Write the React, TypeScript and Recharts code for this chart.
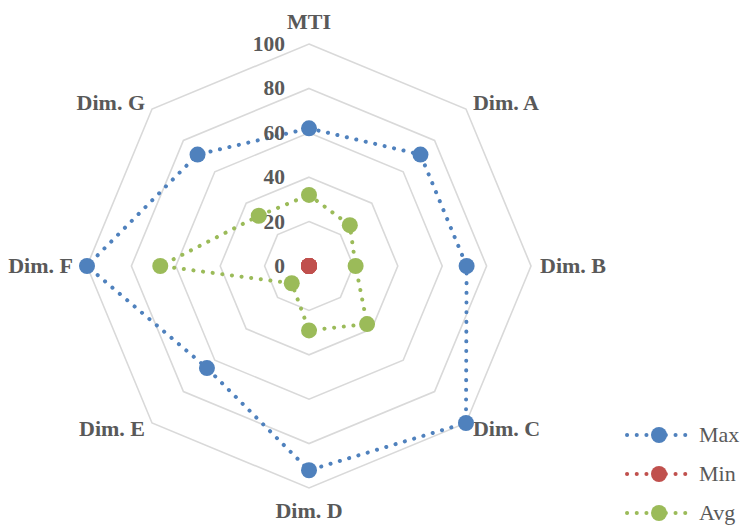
import React from "react";
import { PolarAngleAxis, PolarGrid, PolarRadiusAxis, Radar, RadarChart, Legend } from "recharts";

const dimensions = ["MTI", "Dim. A", "Dim. B", "Dim. C", "Dim. D", "Dim. E", "Dim. F", "Dim. G"];
const maxValues = [62, 71, 71, 100, 92, 65, 100, 71];
const minValues = [0, 0, 0, 0, 0, 0, 0, 0];
const avgValues = [32, 26, 21, 37, 29, 11, 67, 32];
const radiusTicks = [0, 20, 40, 60, 80, 100];

const series = [
  { key: "max", name: "Max", color: "#4f81bd" },
  { key: "min", name: "Min", color: "#c0504d" },
  { key: "avg", name: "Avg", color: "#9bbb59" },
];

const data = dimensions.map((dim, i) => ({
  dim,
  max: maxValues[i],
  min: minValues[i],
  avg: avgValues[i],
}));

const W = 743;
const H = 527;
const CX = 309;
const CY = 266;
const R = 222;
const FONT = '"Times New Roman", "Liberation Serif", serif';
const TEXT = "#595959";

function AngleTick(props: any) {
  const { payload } = props;
  const rad = (payload.coordinate * Math.PI) / 180;
  const cos = Math.cos(rad);
  const sin = Math.sin(rad);
  const vx = CX + R * cos;
  const vy = CY - R * sin;
  let x = vx;
  let y = vy;
  let anchor: "start" | "middle" | "end" = "middle";
  if (Math.abs(cos) < 0.01) {
    y = sin > 0 ? vy - 15 : vy + 30;
  } else {
    anchor = cos > 0 ? "start" : "end";
    // horizontal spokes sit a little further out than the diagonal ones
    const gap = Math.abs(sin) < 0.01 ? (cos > 0 ? 9 : 14) : 7;
    x = vx + (cos > 0 ? gap : -gap);
    y = vy - sin * 8 + 7;
  }
  return (
    <text x={x} y={y} textAnchor={anchor} fontFamily={FONT} fontSize={22} fontWeight="bold" fill={TEXT}>
      {payload.value}
    </text>
  );
}

function RadiusTick(props: any) {
  const { x, y, payload } = props;
  return (
    <text x={x - 24} y={y} dy="0.33em" textAnchor="end" fontFamily={FONT} fontSize={21.5} fontWeight="bold" fill={TEXT}>
      {payload.value}
    </text>
  );
}

function LegendContent() {
  return (
    <div style={{ fontFamily: FONT }}>
      {series.map((s) => (
        <svg key={s.key} width={120} height={39} style={{ display: "block" }}>
          <line
            x1={3}
            y1={19}
            x2={64}
            y2={19}
            stroke={s.color}
            strokeWidth={4}
            strokeDasharray="0.1 9.6"
            strokeLinecap="round"
          />
          <circle cx={35} cy={19} r={8} fill={s.color} />
          <text x={75} y={19} dy="0.33em" fontFamily={FONT} fontSize={22} fill={TEXT}>
            {s.name}
          </text>
        </svg>
      ))}
    </div>
  );
}

function makeDot(color: string) {
  return (p: any) => <circle key={`${color}-${p.index}`} cx={p.cx} cy={p.cy} r={8} fill={color} />;
}

export default function App() {
  return (
    <div style={{ position: "absolute", left: 0, top: 0, width: W, height: H, background: "#fff" }}>
      <RadarChart width={W} height={H} data={data} cx={CX} cy={CY} outerRadius={R} margin={{ top: 0, right: 0, bottom: 0, left: 0 }}>
        <PolarGrid gridType="polygon" radialLines={false} stroke="#d9d9d9" strokeWidth={1.6} />
        <PolarAngleAxis dataKey="dim" tick={<AngleTick />} tickLine={false} axisLine={false} />
        <PolarRadiusAxis
          angle={90}
          domain={[0, 100]}
          ticks={radiusTicks as any}
          tick={<RadiusTick />}
          axisLine={false}
          tickLine={false}
        />
        {series.map((s) => (
          <Radar
            key={s.key}
            name={s.name}
            dataKey={s.key}
            stroke={s.color}
            strokeWidth={4}
            strokeDasharray="0.1 9.6"
            strokeLinecap="round"
            fill="none"
            fillOpacity={0}
            dot={makeDot(s.color)}
            isAnimationActive={false}
          />
        ))}
        <Legend content={<LegendContent />} wrapperStyle={{ left: 624, top: 416, width: 120 }} />
      </RadarChart>
    </div>
  );
}
